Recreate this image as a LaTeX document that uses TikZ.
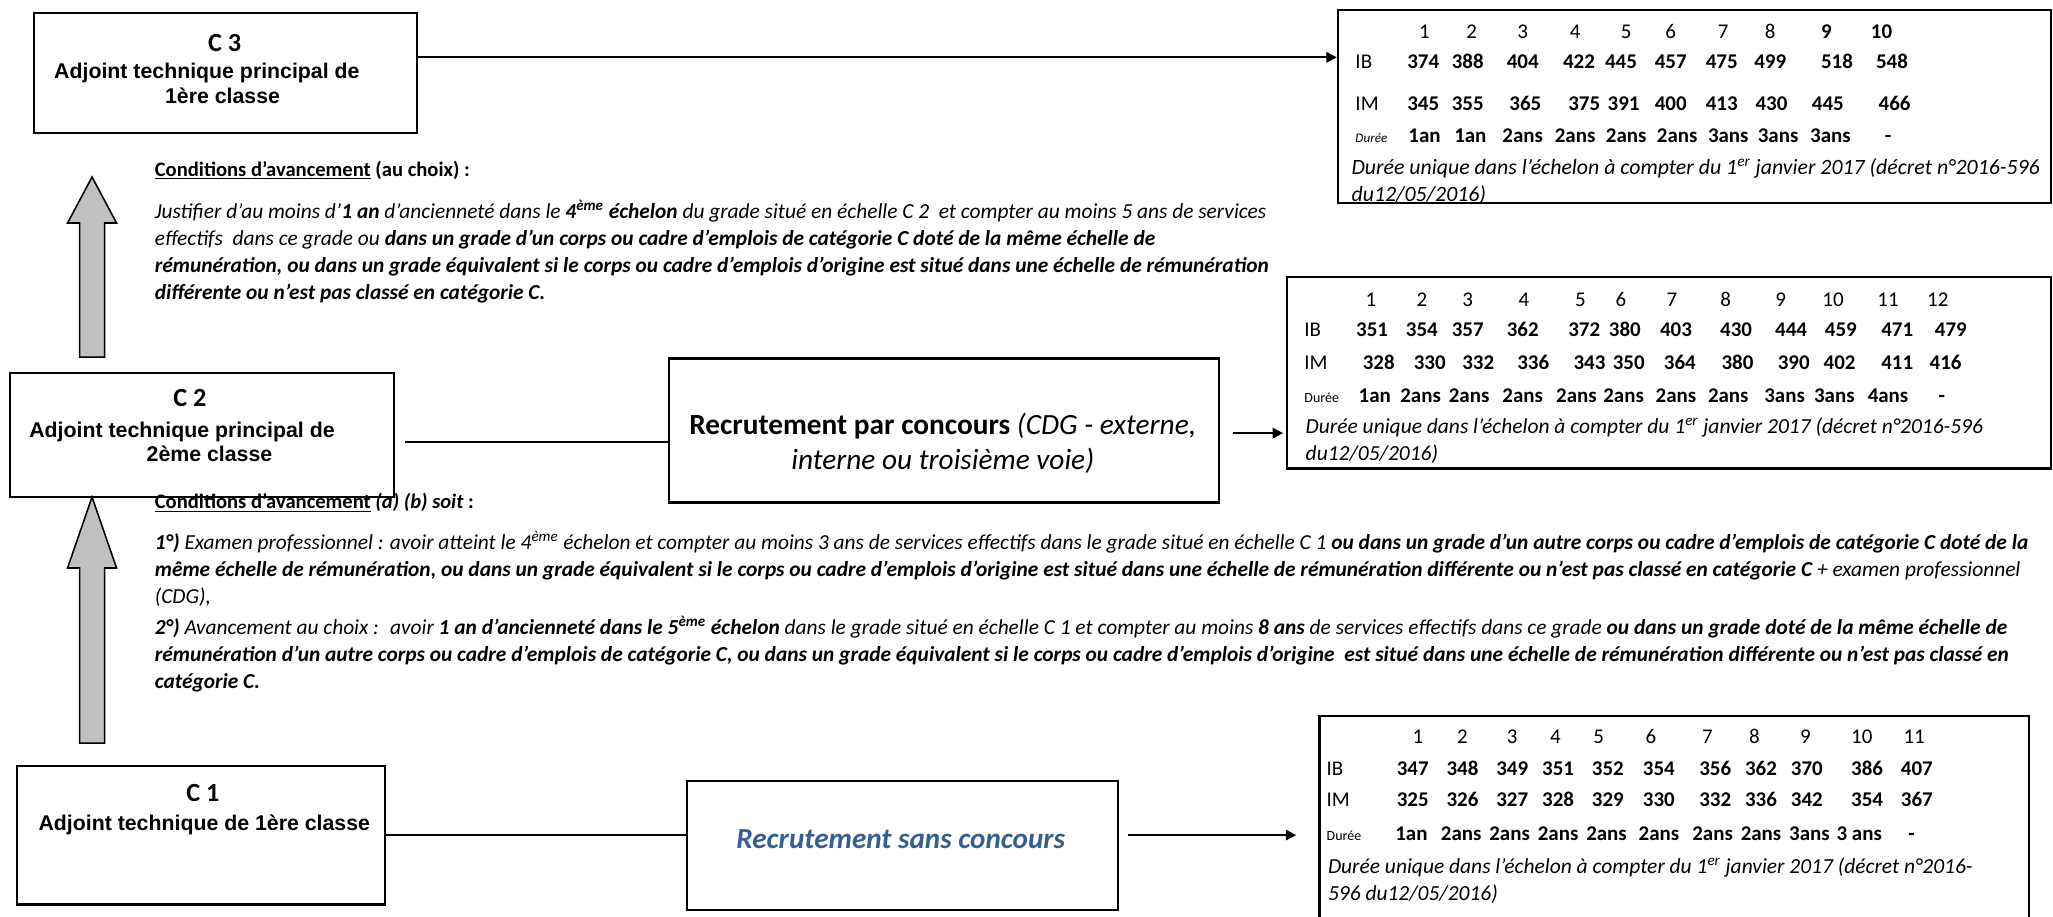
\documentclass[tikz,border=0pt]{standalone}
\usepackage{fontspec}
\setmainfont{Carlito}
\newfontfamily\arialfont{Liberation Sans}
\usetikzlibrary{arrows.meta}

\definecolor{sansblue}{RGB}{54,95,145}
\definecolor{upgray}{RGB}{192,192,192}

\tikzset{
  gbox/.style={draw, line width=1.2pt, anchor=north west, inner sep=0pt},
  gradenum/.style={inner sep=0pt, font=\bfseries\fontsize{15}{17}\selectfont},
  gradename/.style={inner sep=0pt, align=center, font=\arialfont\bfseries\fontsize{12.2}{14.25}\selectfont},
  link/.style={line width=1.1pt},
  pointer/.style={-{Triangle[length=6pt,width=6pt]}},
  upblock/.style={draw, line width=0.9pt, fill=upgray, line join=miter},
  cond/.style={anchor=north west, inner sep=0pt, align=left, font=\itshape\fontsize{12.25}{15.5}\selectfont},
  cell/.style={inner sep=0pt, text height=7.6pt, text depth=0pt, font=\fontsize{12}{14}\selectfont},
  val/.style={cell, font=\bfseries\fontsize{12}{14}\selectfont},
  rowlabel/.style={cell, anchor=west},
  note/.style={cell, anchor=west, font=\itshape\fontsize{12.3}{14}\selectfont},
}

\begin{document}
\begin{tikzpicture}[x=0.75pt,y=0.75pt,yscale=-1]
\useasboundingbox (0,0) rectangle (1568,700);

%Grade boxes
\node[gbox, minimum width=219.75pt, minimum height=69pt] (c3) at (25,9) {};
\node[gbox, minimum width=219.75pt, minimum height=71.25pt] (c2) at (7,284) {};
\node[gbox, minimum width=210.75pt, minimum height=79.5pt] (c1) at (12,584) {};

\node[gradenum] (c3num) at (171.5,33) {C 3};
\node[gradename] (c3name) at (158,63.5) {Adjoint technique principal de\\\hspace*{18pt}1ère classe};
\node[gradenum] (c2num) at (145,304) {C 2};
\node[gradename] (c2name) at (139,337.5) {Adjoint technique principal de\\\hspace*{31.5pt}2ème classe};
\node[gradenum] (c1num) at (155,606) {C 1};
\node[gradename] (c1name) at (156,630) {Adjoint technique de 1ère classe};

%Recruitment boxes
\node[gbox, minimum width=315pt, minimum height=82.5pt] (conc) at (510,273) {};
\node[inner sep=0pt, align=center, font=\fontsize{16.8}{20.25}\selectfont] (conctxt) at (720,338.5) {\textbf{Recrutement par concours} \textit{(CDG - externe,}\\\textit{interne ou troisième voie)}};
\node[gbox, minimum width=246.75pt, minimum height=73.5pt] (sans) at (524,596) {};
\node[inner sep=0pt, text=sansblue, font=\bfseries\itshape\fontsize{16.7}{18}\selectfont] (sanstxt) at (688,641) {Recrutement sans concours};

%Grid tables
\node[gbox, minimum width=408.75pt, minimum height=110.25pt] (t1) at (1021,7) {};
\node[gbox, minimum width=438pt, minimum height=109.5pt] (t2) at (982,211) {};
\node[gbox, minimum width=406.5pt, minimum height=130.5pt] (t3) at (1007,546) {};

\begin{scope}
\clip (t1.north west) rectangle (t1.south east);
\foreach \x/\v [count=\i] in {1088/1,1124/2,1163/3,1203/4,1242/5,1276/6,1316/7,1352/8,1395/\textbf{9},1437/\textbf{10}}
  \node[cell] (t1h\i) at (\x,24) {\v};
\foreach \x/\v [count=\i] in {1087/374,1121/388,1163/404,1206/422,1238/445,1276/457,1315/475,1352/499,1403/518,1445/548}
  \node[val] (t1ib\i) at (\x,47) {\v};
\foreach \x/\v [count=\i] in {1087/345,1121/355,1165/365,1210/375,1240/391,1276/400,1315/413,1353/430,1396/445,1447/466}
  \node[val] (t1im\i) at (\x,79) {\v};
\foreach \x/\v [count=\i] in {1088/1an,1123/1an,1163/2ans,1203/2ans,1242/2ans,1281/2ans,1320/3ans,1358/3ans,1398/3ans,1442/-}
  \node[val] (t1du\i) at (\x,104) {\v};
\node[rowlabel] (t1ib) at (1035,47) {IB};
\node[rowlabel] (t1im) at (1035,79) {IM};
\node[rowlabel, font=\itshape\fontsize{7.5}{8}\selectfont] (t1du) at (1035,104) {Durée};
\node[note, font=\itshape\fontsize{12.5}{14}\selectfont] (t1n1) at (1032,128) {Durée unique dans l’échelon à compter du 1\textsuperscript{er} janvier 2017 (décret n°2016-596};
\node[note, font=\itshape\fontsize{12.5}{14}\selectfont] (t1n2) at (1032,149) {du12/05/2016)};
\end{scope}

\begin{scope}
\clip (t2.north west) rectangle (t2.south east);
\foreach \x/\v [count=\i] in {1047/1,1086/2,1121/3,1164/4,1207/5,1238/6,1277/7,1318/8,1360/9,1400/10,1442/11,1480/12}
  \node[cell] (t2h\i) at (\x,229) {\v};
\foreach \x/\v [count=\i] in {1048/351,1086/354,1121/357,1163/362,1210/372,1241/380,1280/403,1326/430,1368/444,1406/459,1449/471,1490/479}
  \node[val] (t2ib\i) at (\x,252) {\v};
\foreach \x/\v [count=\i] in {1053/328,1092/330,1129/332,1171/336,1214/343,1244/350,1283/364,1327/380,1370/390,1405/402,1449/411,1486/416}
  \node[val] (t2im\i) at (\x,277) {\v};
\foreach \x/\v [count=\i] in {1050/1an,1085/2ans,1122/2ans,1163/2ans,1204/2ans,1240/2ans,1280/2ans,1320/2ans,1363/3ans,1401/3ans,1442/4ans,1483/-}
  \node[val] (t2du\i) at (\x,302) {\v};
\node[rowlabel] (t2ib) at (996,252) {IB};
\node[rowlabel] (t2im) at (996,277) {IM};
\node[rowlabel, font=\fontsize{8}{9}\selectfont] (t2du) at (996,302) {Durée};
\node[note] (t2n1) at (997,326) {Durée unique dans l’échelon à compter du 1\textsuperscript{er} janvier 2017 (décret n°2016-596};
\node[note] (t2n2) at (997,347) {du12/05/2016)};
\end{scope}

\begin{scope}
\clip (t3.north west) rectangle (t3.south east);
\foreach \x/\v [count=\i] in {1083/1,1117/2,1155/3,1188/4,1221/5,1261/6,1304/7,1340/8,1379/9,1422/10,1462/11}
  \node[cell] (t3h\i) at (\x,563) {\v};
\foreach \x/\v [count=\i] in {1079/347,1117/348,1155/349,1190/351,1228/352,1267/354,1310/356,1345/362,1380/370,1426/386,1464/407}
  \node[val] (t3ib\i) at (\x,587) {\v};
\foreach \x/\v [count=\i] in {1079/325,1117/326,1155/327,1190/328,1228/329,1267/330,1310/332,1345/336,1380/342,1426/354,1464/367}
  \node[val] (t3im\i) at (\x,611) {\v};
\foreach \x/\v [count=\i] in {1078/1an,1116/2ans,1153/2ans,1190/2ans,1227/2ans,1267/2ans,1308/2ans,1345/2ans,1382/3ans,1420/3 ans,1460/-}
  \node[val] (t3du\i) at (\x,637) {\v};
\node[rowlabel] (t3ib) at (1013,587) {IB};
\node[rowlabel] (t3im) at (1013,611) {IM};
\node[rowlabel, font=\fontsize{8}{9}\selectfont] (t3du) at (1013,637) {Durée};
\node[note] (t3n1) at (1014,662) {Durée unique dans l’échelon à compter du 1\textsuperscript{er} janvier 2017 (décret n°2016-};
\node[note] (t3n2) at (1014,683) {596 du12/05/2016)};
\end{scope}

%Connectors
\draw[link, pointer] ([yshift=-9pt]c3.east) -- ([yshift=-9pt]c3.east -| t1.west);
\draw[link, shorten <=6pt] ([yshift=4pt]c2.east) -- ([yshift=4pt]c2.east -| conc.west);
\draw[link, pointer, shorten <=7.5pt, shorten >=1.5pt] ([yshift=1.5pt]conc.east) -- ([yshift=1.5pt]conc.east -| t2.west);
\draw[link] (c1.east) -- (c1.east -| sans.west);
\draw[link, pointer, shorten <=5.25pt, shorten >=12.75pt] (c1.east -| sans.east) -- (c1.east -| t3.west);

%Promotion arrows
\coordinate (up3) at (70.3,135.2);
\draw[upblock] (up3) -- ++(18.7,35.1) -- ++(-9.15,0) -- ++(0,102.4) -- ++(-19.1,0) -- ++(0,-102.4) -- ++(-9.15,0) -- cycle;
\coordinate (up2) at (70.3,379.6);
\draw[upblock] (up2) -- ++(18.7,54.2) -- ++(-9.15,0) -- ++(0,133.7) -- ++(-19.1,0) -- ++(0,-133.7) -- ++(-9.15,0) -- cycle;

%Conditions
\node[cond, anchor=west, font=\bfseries\fontsize{11.8}{15.5}\selectfont] (cond3) at (118,130) {\underline{Conditions d’avancement} (au choix) :};
\node[cond] (cond3txt) at (118,152.8) {Justifier d’au moins d’\textbf{1 an} d’ancienneté dans le \textbf{4\textsuperscript{ème} échelon} du grade situé en échelle C 2~ et compter au moins 5 ans de services\\
effectifs~ dans ce grade ou \textbf{dans un grade d’un corps ou cadre d’emplois de catégorie C doté de la même échelle de}\\
\textbf{rémunération, ou dans un grade équivalent si le corps ou cadre d’emplois d’origine est situé dans une échelle de rémunération}\\
\textbf{différente ou n’est pas classé en catégorie C.}};

\node[cond, anchor=west, font=\bfseries\fontsize{11.8}{15.5}\selectfont] (cond2) at (118,384) {\underline{Conditions d’avancement} \textit{(a) (b) soit} :};
\node[cond] (cond2a) at (118,405.5) {\textbf{1°)} Examen professionnel : avoir atteint le 4\textsuperscript{ème} échelon et compter au moins 3 ans de services effectifs dans le grade situé en échelle C 1 \textbf{ou dans un grade d’un autre corps ou cadre d’emplois de catégorie C doté de la}\\
\textbf{même échelle de rémunération, ou dans un grade équivalent si le corps ou cadre d’emplois d’origine est situé dans une échelle de rémunération différente ou n’est pas classé en catégorie C} + examen professionnel\\
(CDG),};
\node[cond] (cond2b) at (118,470.6) {\textbf{2°)} Avancement au choix :~ avoir \textbf{1 an d’ancienneté dans le 5\textsuperscript{ème} échelon} dans le grade situé en échelle C 1 et compter au moins \textbf{8 ans} de services effectifs dans ce grade \textbf{ou dans un grade doté de la même échelle de}\\
\textbf{rémunération d’un autre corps ou cadre d’emplois de catégorie C, ou dans un grade équivalent si le corps ou cadre d’emplois d’origine~ est situé dans une échelle de rémunération différente ou n’est pas classé en}\\
\textbf{catégorie C.}};

\end{tikzpicture}
\end{document}
